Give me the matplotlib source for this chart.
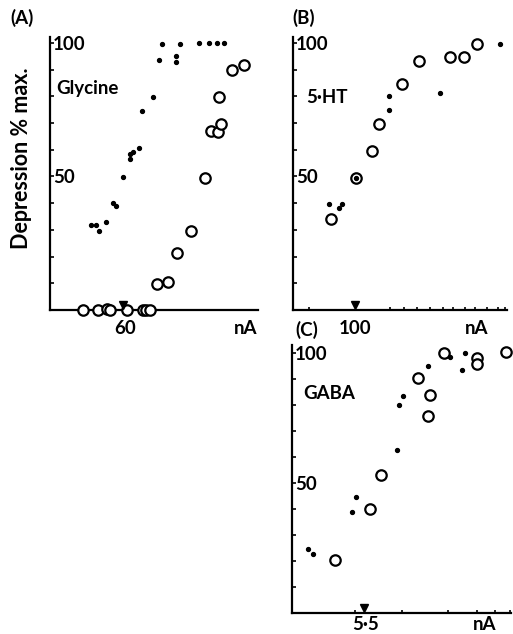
import matplotlib
matplotlib.use('Agg')
import matplotlib.pyplot as plt

plt.rcParams['font.family'] = ['Lato', 'DejaVu Sans']
plt.rcParams['font.weight'] = 'bold'

# x positions are in arbitrary axis units (log-current scale)
# (A) Glycine
a_dot_x = [41, 46, 49, 56, 63, 66, 73, 80, 80, 83, 89, 92, 103, 109, 112, 126, 126, 130, 149, 159, 167, 174]
a_dot_y = [32, 32, 29.6, 33, 40, 39, 49.8, 56.6, 58.4, 59, 60.7, 74.5, 79.8, 93.6, 99.6, 95, 93, 99.6, 100, 100, 100, 100]
a_circ_x = [33, 48, 57, 60, 77, 93, 96, 100, 107, 118, 127, 141, 155, 161, 168, 171, 169, 182, 194]
a_circ_y = [0, 0, 0.5, 0, 0, 0, 0, 0, 9.6, 10.3, 21.2, 29.7, 49.4, 67.1, 66.5, 69.6, 79.9, 89.7, 91.6]

# (B) 5-HT
b_dot_x = [36, 46, 49, 63, 96, 96, 147, 207]
b_dot_y = [39.7, 38.1, 39.7, 49.5, 80.2, 74.7, 81.2, 99.7]
b_circ_x = [38, 63, 79, 86, 109, 126, 157, 171, 184]
b_circ_y = [34, 49.5, 59.6, 69.7, 84.7, 93.4, 94.6, 94.7, 99.7]

# (C) GABA
c_dot_x = [16, 21, 60, 64, 105, 107, 111, 136, 158, 170, 173]
c_dot_y = [24.6, 22.7, 38.7, 44.6, 62.8, 80.1, 83.3, 94.9, 98.4, 93.3, 100]
c_circ_x = [43, 78, 89, 126, 138, 136, 152, 185, 185, 214]
c_circ_y = [20.5, 40.1, 53.2, 90.4, 83.6, 75.6, 100, 98.1, 95.8, 100.4]

panels = [
    dict(rect=[50, 37, 258, 310], ylim=(0, 102.2), xlim=(0, 208),
         dx=a_dot_x, dy=a_dot_y, cx=a_circ_x, cy=a_circ_y,
         lab_pos=75, lab='60', minor=[], tri=73, na=0.94, lab_off=18,
         tag='(A)', tag_xy=(22, 18), name='Glycine', name_xy=(0.03, 0.81)),
    dict(rect=[293, 37, 507, 310], ylim=(0, 102.2), xlim=(0, 214),
         dx=b_dot_x, dy=b_dot_y, cx=b_circ_x, cy=b_circ_y,
         lab_pos=62, lab='100',
         minor=[16, 97, 111, 124, 137, 150, 160, 172, 182, 194, 205, 212], tri=62,
         na=0.86, lab_off=18,
         tag='(B)', tag_xy=(304, 18), name='5\u00b7HT', name_xy=(0.06, 0.78)),
    dict(rect=[292, 345, 511, 613], ylim=(0, 103), xlim=(0, 219),
         dx=c_dot_x, dy=c_dot_y, cx=c_circ_x, cy=c_circ_y,
         lab_pos=74, lab='5\u00b75',
         minor=[63, 110, 156, 185, 203, 218], tri=72, na=0.88, lab_off=12,
         tag='(C)', tag_xy=(307, 330), name='GABA', name_xy=(0.05, 0.82)),
]

W, H = 513, 634
fs = 13.5
fig = plt.figure(figsize=(W / 100, H / 100), dpi=100)

for p in panels:
    l, t, r, b = p['rect']
    ax = fig.add_axes([l / W, 1 - b / H, (r - l) / W, (b - t) / H])
    ax.plot(p['cx'], p['cy'], 'o', mfc='white', mec='black', ms=7.5, mew=1.6,
            clip_on=False, zorder=3)
    ax.plot(p['dx'], p['dy'], 'o', color='black', ms=2.8, clip_on=False, zorder=4)
    ax.plot([p['tri']], [2], 'v', color='black', ms=5.5, clip_on=False, zorder=5)
    ax.set_xlim(*p['xlim'])
    ax.set_ylim(*p['ylim'])
    for s in ['top', 'right']:
        ax.spines[s].set_visible(False)
    for s in ['left', 'bottom']:
        ax.spines[s].set_linewidth(1.6)
    ax.set_yticks(range(0, 101, 10))
    ax.set_yticklabels(['' if v not in (50, 100) else str(v) for v in range(0, 101, 10)])
    ax.tick_params(axis='y', direction='in', length=3, width=1.2, pad=-2, labelsize=fs)
    for lab in ax.get_yticklabels():
        lab.set_horizontalalignment('left')
    ax.set_xticks([])
    ax.set_xticks(p['minor'], minor=True)
    ax.tick_params(axis='x', which='both', direction='in', length=2.5, width=1.2)
    off = -p['lab_off'] * 0.72
    ax.annotate(p['lab'], (p['lab_pos'], 0), xycoords=('data', 'axes fraction'),
                xytext=(0, off), textcoords='offset points',
                ha='center', va='center', fontsize=fs)
    ax.annotate('nA', (p['na'], 0), xycoords='axes fraction',
                xytext=(0, off), textcoords='offset points',
                ha='center', va='center', fontsize=fs)
    ax.text(p['name_xy'][0], p['name_xy'][1], p['name'], transform=ax.transAxes,
            fontsize=fs, ha='left', va='center')
    fig.text(p['tag_xy'][0] / W, 1 - p['tag_xy'][1] / H, p['tag'],
             fontsize=fs, ha='center', va='center')

fig.text(22 / W, 1 - 158 / H, 'Depression % max.', rotation=90,
         ha='center', va='center', fontsize=15.5)

fig.savefig('out.png', dpi=100)
